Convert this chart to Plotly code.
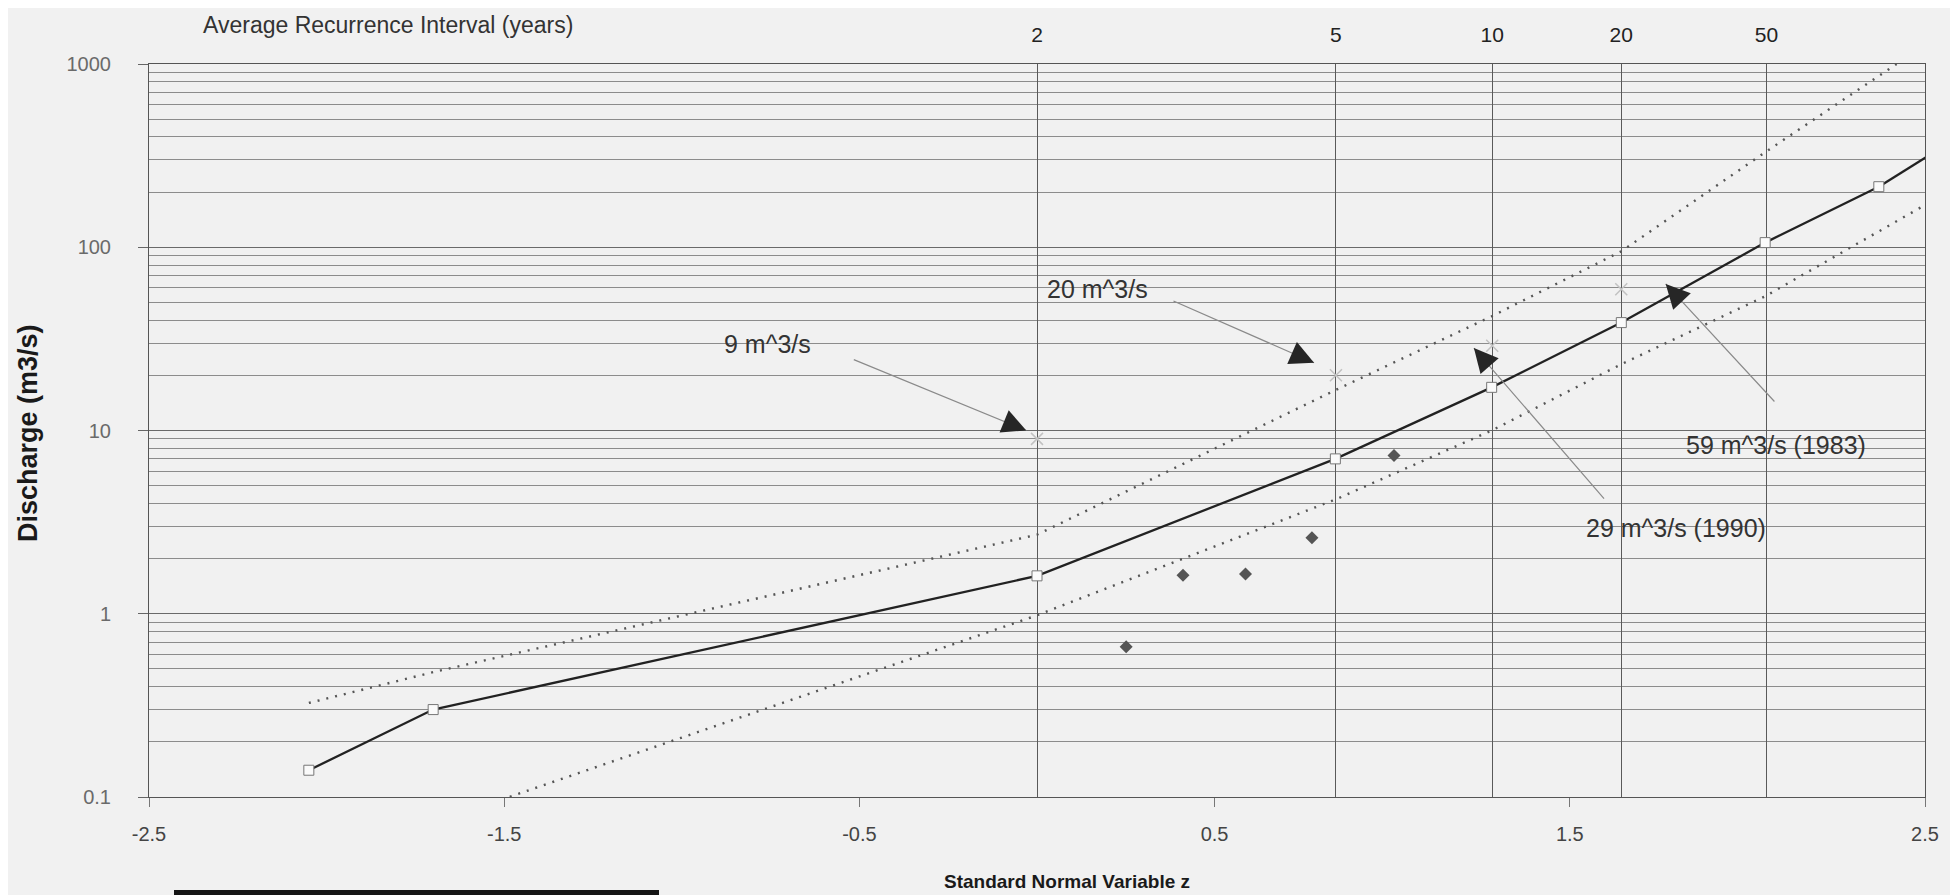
import plotly.graph_objects as go

# ---------------- data ----------------
# fitted frequency curve (solid line, open squares)
fit_z = [-2.05, -1.70, 0.0, 0.84, 1.28, 1.645, 2.05, 2.37]
fit_q = [0.14, 0.30, 1.61, 7.0, 17.2, 38.8, 106, 214]
# continuation of the fitted curve beyond the right edge (clipped)
fit_ext_z = [2.37, 2.62]
fit_ext_q = [214, 430]
# upper confidence limit (dotted)
up_z = [-2.05, -1.70, 0.0, 0.84, 1.28, 1.645, 2.05, 2.42]
up_q = [0.326, 0.48, 2.7, 16.6, 42, 95, 330, 1000]
# lower confidence limit (dotted)
lo_z = [-1.70, 0.0, 0.84, 1.28, 1.645, 2.05, 2.5]
lo_q = [0.072, 0.98, 4.2, 10, 23, 54, 170]
# observed annual maxima (diamonds)
obs_z = [0.251, 0.411, 0.587, 0.774, 1.005]
obs_q = [0.66, 1.62, 1.65, 2.6, 7.3]
# recurrence-interval axis
ri_labels = ["2", "5", "10", "20", "50"]
ri_z = [0.0, 0.8416, 1.2816, 1.6449, 2.0537]
# marked discharges (light x markers)
mark_z = [0.0, 0.8416, 1.2816, 1.6449]
mark_q = [9, 20, 29, 59]
# bottom axis ticks
x_ticks = [-2.5, -1.5, -0.5, 0.5, 1.5, 2.5]
y_ticks = [0.1, 1, 10, 100, 1000]
y_ticktext = ["0.1", "1", "10", "100", "1000"]
y_minor = [m * 10 ** e for e in range(-1, 3) for m in range(2, 10)]

# annotations: text, text position (z, log10 Q)
labels = ["9 m^3/s", "20 m^3/s", "29 m^3/s (1990)", "59 m^3/s (1983)"]
label_z = [-0.76, 0.17, 1.80, 2.08]
label_lq = [1.47, 1.77, 0.47, 0.92]
# arrows: tail (z, log10 Q) -> tip (z, log10 Q)
arr_tail_z = [-0.52, 0.38, 1.60, 2.08]
arr_tail_lq = [1.39, 1.71, 0.62, 1.15]
arr_tip_z = [-0.03, 0.78, 1.23, 1.77]
arr_tip_lq = [1.00, 1.37, 1.45, 1.80]

# ---------------- figure ----------------
W, H = 1958, 895
ML, MR, MT, MB = 141, 41, 56, 106
PW, PH = W - ML - MR, H - MT - MB
BG = "#f1f1f1"
FONT = "Liberation Sans, Arial, sans-serif"
NARROW = "Liberation Sans Narrow, Liberation Sans, Arial, sans-serif"

fig = go.Figure()

fig.add_trace(go.Scatter(x=up_z, y=up_q, mode="lines", showlegend=False,
                         line=dict(color="#555555", width=2.4, dash="2px,7px")))
fig.add_trace(go.Scatter(x=lo_z, y=lo_q, mode="lines", showlegend=False,
                         line=dict(color="#555555", width=2.4, dash="2px,7px")))
fig.add_trace(go.Scatter(x=fit_ext_z, y=fit_ext_q, mode="lines", showlegend=False,
                         line=dict(color="#222222", width=2.3)))
fig.add_trace(go.Scatter(x=fit_z, y=fit_q, mode="lines+markers", showlegend=False,
                         line=dict(color="#222222", width=2.3),
                         marker=dict(symbol="square", size=10, color="#fafafa",
                                     line=dict(color="#777777", width=1))))
fig.add_trace(go.Scatter(x=obs_z, y=obs_q, mode="markers", showlegend=False,
                         marker=dict(symbol="diamond", size=10, color="#555555")))
fig.add_trace(go.Scatter(x=mark_z, y=mark_q, mode="markers", showlegend=False,
                         xaxis="x2",
                         marker=dict(symbol="x-thin-open", size=12, color="#c2c2c2",
                                     line=dict(color="#c2c2c2", width=1.5))))

annotations = []
for i in range(len(arr_tip_z)):
    tz, tl = arr_tip_z[i], arr_tip_lq[i]
    az, al = arr_tail_z[i], arr_tail_lq[i]
    # thin grey shaft
    annotations.append(dict(x=tz, y=tl, ax=az, ay=al, xref="x", yref="y",
                            axref="x", ayref="y", text="", showarrow=True,
                            arrowhead=0, arrowwidth=1.2, arrowcolor="#8a8a8a"))
    # dark triangular head
    annotations.append(dict(x=tz, y=tl, ax=tz + 0.1 * (az - tz), ay=tl + 0.1 * (al - tl),
                            xref="x", yref="y", axref="x", ayref="y", text="",
                            showarrow=True, arrowhead=2, arrowsize=3.2,
                            arrowwidth=1.5, arrowcolor="#262626"))
for i in range(len(labels)):
    annotations.append(dict(x=label_z[i], y=label_lq[i], xref="x", yref="y",
                            text=labels[i], showarrow=False,
                            xanchor="center", yanchor="middle",
                            font=dict(family=FONT, size=25, color="#333333")))

annotations.append(dict(x=(380 - ML) / PW, y=(H - MB - 17) / PH,
                        xref="paper", yref="paper", xanchor="center", yanchor="middle",
                        text="Average Recurrence Interval (years)",
                        showarrow=False, font=dict(family=FONT, size=23, color="#333333")))
annotations.append(dict(x=(1059 - ML) / PW, y=(H - MB - 873) / PH, xref="paper",
                        yref="paper", xanchor="center", yanchor="middle",
                        text="<b>Standard Normal Variable z</b>", showarrow=False,
                        font=dict(family=NARROW, size=19, color="#1a1a1a")))
annotations.append(dict(x=(20 - ML) / PW, y=(H - MB - 425) / PH, xref="paper", yref="paper",
                        xanchor="center", yanchor="middle",
                        text="<b>Discharge (m3/s)</b>", showarrow=False, textangle=-90,
                        font=dict(family=NARROW, size=27, color="#1a1a1a")))

shapes = [dict(type="rect", xref="paper", yref="paper",
               x0=(166 - ML) / PW, x1=(651 - ML) / PW,
               y0=(H - MB - 900) / PH, y1=(H - MB - 882) / PH,
               fillcolor="#151515", line=dict(width=0), layer="above")]

fig.update_layout(
    width=W, height=H,
    margin=dict(l=ML, r=MR, t=MT, b=MB),
    paper_bgcolor=BG, plot_bgcolor=BG,
    font=dict(family=FONT),
    annotations=annotations,
    shapes=shapes,
    xaxis=dict(range=[-2.5, 2.5], tickvals=x_ticks,
               ticktext=[str(v) for v in x_ticks],
               showgrid=False, zeroline=False, showline=True, linecolor="#555555",
               linewidth=1, mirror=True, ticks="outside", ticklen=9, tickcolor="#777777",
               tickfont=dict(family=FONT, size=20, color="#444444"),
               ticklabelstandoff=10),
    xaxis2=dict(range=[-2.5, 2.5], overlaying="x", side="top", tickvals=ri_z,
                ticktext=ri_labels, showgrid=True, gridcolor="#5a5a5a", gridwidth=1,
                zeroline=False, showline=False, ticks="",
                tickfont=dict(family=FONT, size=21, color="#222222"),
                ticklabelstandoff=17),
    yaxis=dict(type="log", range=[-1, 3], tickvals=y_ticks, ticktext=y_ticktext,
               showgrid=True, gridcolor="#6a6a6a", gridwidth=1,
               minor=dict(tickvals=y_minor, showgrid=True, gridcolor="#8c8c8c",
                          gridwidth=1, ticks=""),
               zeroline=False, showline=True, linecolor="#555555", linewidth=1,
               mirror=True, ticks="outside", ticklen=10, tickcolor="#666666",
               tickfont=dict(family=FONT, size=20, color="#6a6a6a"),
               ticklabelstandoff=23),
)

fig.write_html("out.html")
